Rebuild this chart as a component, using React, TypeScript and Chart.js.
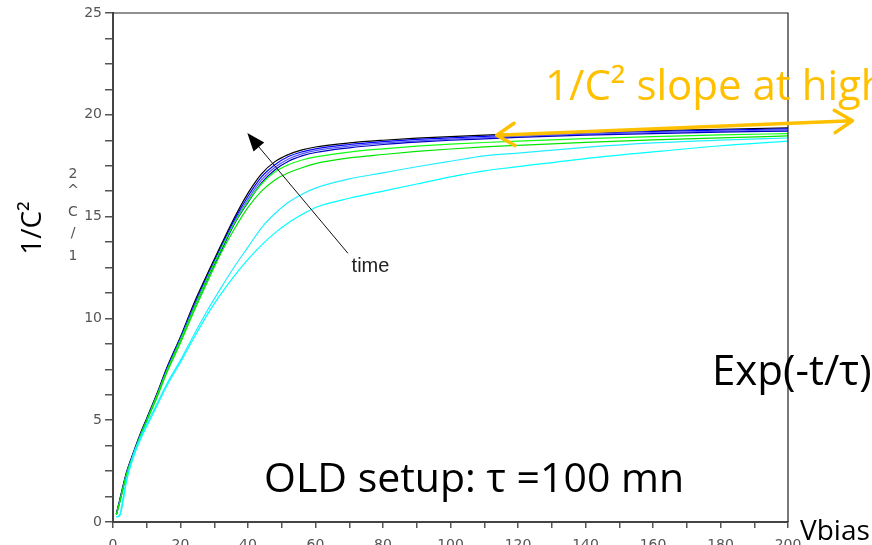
import React, { useEffect, useRef } from "react";
import { Chart, registerables } from "chart.js";

Chart.register(...registerables);

// Bias voltage samples (shared by all curves)
const vbias = [1, 2, 3, 4, 6, 8, 10, 13, 16, 20, 24, 28, 32, 36, 40, 44, 48, 52, 56, 60, 70, 80, 90, 100, 110, 120, 140, 160, 180, 200];

// 1/C^2 curves, earliest (cyan) to latest (black)
const cyanLow = [0.25, 0.3, 1.0, 2.0, 3.15, 4.0, 4.7, 5.7, 6.7, 7.85, 9.05, 10.2, 11.2, 12.1, 12.9, 13.6, 14.2, 14.7, 15.1, 15.45, 15.9, 16.25, 16.6, 16.95, 17.25, 17.45, 17.85, 18.18, 18.48, 18.71];
const cyanHigh = [0.25, 0.35, 1.2, 2.1, 3.3, 4.1, 4.8, 5.8, 6.8, 7.95, 9.2, 10.4, 11.5, 12.55, 13.5, 14.45, 15.15, 15.7, 16.1, 16.4, 16.85, 17.15, 17.45, 17.72, 17.98, 18.12, 18.4, 18.62, 18.76, 18.86];
const greenLow = [0.35, 0.95, 1.65, 2.3, 3.25, 4.15, 4.95, 6.1, 7.35, 8.8, 10.35, 11.8, 13.2, 14.4, 15.45, 16.25, 16.8, 17.15, 17.4, 17.6, 17.88, 18.05, 18.2, 18.32, 18.42, 18.5, 18.65, 18.77, 18.87, 18.96];
const greenHigh = [0.37, 1.0, 1.7, 2.35, 3.3, 4.2, 5.0, 6.2, 7.45, 8.95, 10.5, 12.0, 13.4, 14.7, 15.75, 16.6, 17.2, 17.55, 17.78, 17.93, 18.17, 18.33, 18.46, 18.56, 18.64, 18.71, 18.83, 18.93, 19.01, 19.08];
const blue3 = [0.38, 1.0, 1.7, 2.35, 3.3, 4.2, 5.0, 6.2, 7.45, 8.95, 10.5, 11.95, 13.3, 14.65, 15.7, 16.65, 17.3, 17.72, 17.98, 18.15, 18.38, 18.54, 18.66, 18.75, 18.82, 18.89, 19.0, 19.08, 19.15, 19.2];
const blue2 = [0.38, 1.02, 1.72, 2.38, 3.32, 4.22, 5.02, 6.22, 7.5, 9.0, 10.58, 12.02, 13.4, 14.75, 15.85, 16.8, 17.42, 17.83, 18.08, 18.24, 18.46, 18.61, 18.72, 18.81, 18.88, 18.95, 19.05, 19.13, 19.2, 19.26];
const blue1 = [0.4, 1.05, 1.75, 2.4, 3.35, 4.25, 5.05, 6.25, 7.55, 9.05, 10.65, 12.1, 13.5, 14.85, 16.0, 16.95, 17.55, 17.95, 18.18, 18.33, 18.54, 18.68, 18.79, 18.87, 18.94, 19.0, 19.1, 19.18, 19.25, 19.31];
const blackLatest = [0.4, 1.1, 1.8, 2.45, 3.4, 4.3, 5.1, 6.3, 7.6, 9.1, 10.75, 12.2, 13.6, 14.95, 16.15, 17.1, 17.7, 18.05, 18.28, 18.42, 18.62, 18.75, 18.85, 18.93, 19.0, 19.06, 19.15, 19.22, 19.29, 19.36];

const seriesList = [
  { name: "t1", values: cyanLow, color: "#00ffff" },
  { name: "t2", values: cyanHigh, color: "#22eeff" },
  { name: "t3", values: greenLow, color: "#00e600" },
  { name: "t4", values: greenHigh, color: "#11ff11" },
  { name: "t5", values: blue3, color: "#0000c0" },
  { name: "t6", values: blue2, color: "#5555ff" },
  { name: "t7", values: blue1, color: "#0000ff" },
  { name: "t8", values: blackLatest, color: "#000000" },
];

// axis ranges and ticks
const yMin = 0, yMax = 25, yStep = 1.25, yLabelEvery = 5;
const xMin = 0, xMax = 200, xStep = 10, xLabelEvery = 20;

// annotation anchors in data units
const timeArrowFrom = [69.6, 13.2];
const timeArrowTo = [39.8, 19.1];
const timeLabelAt = [70.7, 12.3];
const slopeArrowLeft = [113.7, 19.0];
const slopeArrowRight = [219.1, 19.71];

const stackedAxisChars = ["1", "/", "C", "^", "2"];

const overlayPlugin = {
  id: "overlay",
  afterDraw(chart: any) {
    const { ctx, chartArea, scales } = chart;
    const xs = scales.x, ys = scales.y;
    const px = (v: number) => xs.getPixelForValue(v);
    const py = (v: number) => ys.getPixelForValue(v);
    ctx.save();

    // frame top and right
    ctx.strokeStyle = "#222";
    ctx.lineWidth = 1.2;
    ctx.beginPath();
    ctx.moveTo(chartArea.left, chartArea.top);
    ctx.lineTo(chartArea.right, chartArea.top);
    ctx.lineTo(chartArea.right, chartArea.bottom);
    ctx.stroke();

    // stacked small axis label from the original plot
    ctx.fillStyle = "#555";
    ctx.font = "14px 'DejaVu Sans'";
    ctx.textAlign = "center";
    ctx.textBaseline = "middle";
    const charYs = [256, 233, 212, 191, 174];
    stackedAxisChars.forEach((c, i) => ctx.fillText(c, 73, charYs[i]));

    // time arrow
    const fx = px(timeArrowFrom[0]), fy = py(timeArrowFrom[1]);
    const tx = px(timeArrowTo[0]), ty = py(timeArrowTo[1]);
    const ang = Math.atan2(ty - fy, tx - fx);
    ctx.strokeStyle = "#111";
    ctx.fillStyle = "#000";
    ctx.lineWidth = 1;
    ctx.beginPath();
    ctx.moveTo(fx, fy);
    ctx.lineTo(tx - 12 * Math.cos(ang), ty - 12 * Math.sin(ang));
    ctx.stroke();
    const hl = 18, hw = 7;
    ctx.beginPath();
    ctx.moveTo(tx, ty);
    ctx.lineTo(tx - hl * Math.cos(ang) + hw * Math.sin(ang), ty - hl * Math.sin(ang) - hw * Math.cos(ang));
    ctx.lineTo(tx - hl * Math.cos(ang) - hw * Math.sin(ang), ty - hl * Math.sin(ang) + hw * Math.cos(ang));
    ctx.closePath();
    ctx.fill();

    ctx.fillStyle = "#222";
    ctx.font = "20px 'Liberation Sans'";
    ctx.textAlign = "left";
    ctx.textBaseline = "alphabetic";
    ctx.fillText("time", px(timeLabelAt[0]), py(timeLabelAt[1]));

    // orange double arrow
    const lx = px(slopeArrowLeft[0]), ly = py(slopeArrowLeft[1]);
    const rx = px(slopeArrowRight[0]), ry = py(slopeArrowRight[1]);
    const a2 = Math.atan2(ry - ly, rx - lx);
    ctx.strokeStyle = "#FFC000";
    ctx.lineWidth = 3.5;
    ctx.lineCap = "round";
    ctx.lineJoin = "round";
    ctx.beginPath();
    ctx.moveTo(lx, ly);
    ctx.lineTo(rx, ry);
    const al = 21, spread = 0.56;
    ctx.moveTo(lx + al * Math.cos(a2 - spread), ly + al * Math.sin(a2 - spread));
    ctx.lineTo(lx, ly);
    ctx.lineTo(lx + al * Math.cos(a2 + spread), ly + al * Math.sin(a2 + spread));
    ctx.moveTo(rx - al * Math.cos(a2 - spread), ry - al * Math.sin(a2 - spread));
    ctx.lineTo(rx, ry);
    ctx.lineTo(rx - al * Math.cos(a2 + spread), ry - al * Math.sin(a2 + spread));
    ctx.stroke();

    // slide texts
    ctx.textAlign = "left";
    ctx.textBaseline = "alphabetic";
    ctx.fillStyle = "#FFC000";
    ctx.font = "42px 'Open Sans'";
    ctx.fillText("1/C² slope at high", 545, 100);

    ctx.fillStyle = "#000";
    ctx.fillText("Exp(-t/τ)", 712, 385);
    ctx.font = "41px 'Open Sans'";
    ctx.fillText("OLD setup: τ =100 mn", 264, 492);

    ctx.font = "28px 'Open Sans'";
    ctx.fillText("Vbias", 800, 540);

    ctx.save();
    ctx.translate(41, 228);
    ctx.rotate(-Math.PI / 2);
    ctx.textAlign = "center";
    ctx.fillText("1/C²", 0, 0);
    ctx.restore();

    ctx.restore();
  },
};

export default function App() {
  const ref = useRef<HTMLCanvasElement>(null);
  useEffect(() => {
    if (!ref.current) return;
    const chart = new Chart(ref.current, {
      type: "line",
      data: {
        labels: vbias,
        datasets: seriesList.map((s) => ({
          label: s.name,
          data: vbias.map((x, i) => ({ x, y: s.values[i] })),
          borderColor: s.color,
          backgroundColor: s.color,
          borderWidth: 1.2,
          pointRadius: 0,
          cubicInterpolationMode: "monotone" as const,
          fill: false,
        })),
      },
      options: {
        animation: false,
        responsive: false,
        events: [],
        layout: { padding: { left: 0, right: 84, top: 13, bottom: 0 } },
        plugins: { legend: { display: false }, tooltip: { enabled: false } },
        scales: {
          x: {
            type: "linear",
            min: xMin,
            max: xMax,
            afterFit: (s: any) => { s.height = 38; },
            ticks: {
              stepSize: xStep,
              autoSkip: false,
              maxRotation: 0,
              padding: 9,
              color: "#555",
              font: { family: "DejaVu Sans", size: 14 },
              callback: (v: any) => (Number(v) % xLabelEvery === 0 ? String(v) : ""),
            },
            grid: { drawOnChartArea: false, drawTicks: true, tickLength: 6, color: "#555", lineWidth: 1.5 },
            border: { display: true, color: "#444", width: 2 },
          },
          y: {
            type: "linear",
            min: yMin,
            max: yMax,
            afterFit: (s: any) => { s.width = 113; },
            ticks: {
              stepSize: yStep,
              autoSkip: false,
              padding: 3,
              color: "#555",
              font: { family: "DejaVu Sans", size: 14 },
              callback: (v: any) => (Number(v) % yLabelEvery === 0 ? String(v) : ""),
            },
            grid: { drawOnChartArea: false, drawTicks: true, tickLength: 8, color: "#555", lineWidth: 1.5 },
            border: { display: true, color: "#444", width: 2 },
          },
        },
      },
      plugins: [overlayPlugin],
    });
    return () => chart.destroy();
  }, []);
  return (
    <div style={{ position: "fixed", left: 0, top: 0, width: 872, height: 545, overflow: "hidden", background: "#fff" }}>
      <canvas ref={ref} width={872} height={560} style={{ display: "block" }} />
    </div>
  );
}
